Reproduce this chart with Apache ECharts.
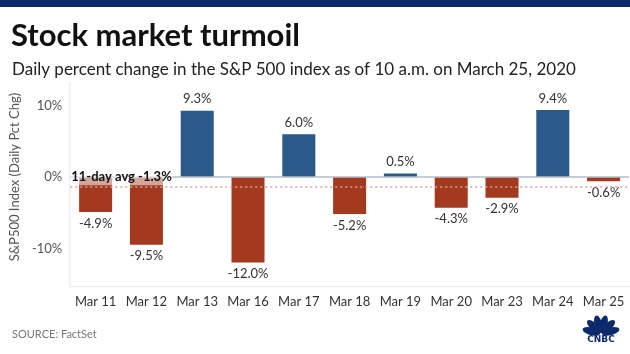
<!DOCTYPE html>
<html>
<head>
<meta charset="utf-8">
<script src="https://cdn.jsdelivr.net/npm/echarts@6/dist/echarts.min.js"></script>
<style>
  html, body { margin: 0; padding: 0; background: #fff; }
  #chart { width: 630px; height: 354px; }
</style>
</head>
<body>
<div id="chart"></div>
<script>
// daily % change, S&P 500
var days = ['Mar 11', 'Mar 12', 'Mar 13', 'Mar 16', 'Mar 17', 'Mar 18', 'Mar 19', 'Mar 20', 'Mar 23', 'Mar 24', 'Mar 25'];
var pctChange = [-4.9, -9.5, 9.3, -12.0, 6.0, -5.2, 0.5, -4.3, -2.9, 9.4, -0.6];
var avgChange = -1.3;
var yTicks = [-10, 0, 10];

var chart = echarts.init(document.getElementById('chart'));
var font = 'Lato, "Open Sans", sans-serif';

// peacock feathers for the logo
var feathers = [];
var angles = [-75, -45, -15, 15, 45, 75];
for (var i = 0; i < angles.length; i++) {
  feathers.push({
    type: 'ellipse',
    shape: { cx: 0, cy: -10, rx: 3.8, ry: 9 },
    rotation: -angles[i] * Math.PI / 180,
    style: { fill: '#0c2a6b' }
  });
}

var option = {
  animation: false,
  textStyle: { fontFamily: font },
  title: [
    { text: 'Stock market turmoil', left: 6, top: 15,
      textStyle: { fontSize: 31, fontWeight: 'bold', color: '#111', fontFamily: font } },
    { text: 'Daily percent change in the S&P 500 index as of 10 a.m. on March 25, 2020', left: 7, top: 56,
      textStyle: { fontSize: 17, fontWeight: 'normal', color: '#222', fontFamily: font } },
    { text: 'SOURCE: FactSet', left: 7, top: 324,
      textStyle: { fontSize: 11, fontWeight: 'normal', color: '#777', fontFamily: font } }
  ],
  graphic: [
    { type: 'rect', left: 0, top: 0, shape: { width: 630, height: 7 }, style: { fill: '#0c2a6b' } },
    { type: 'rect', left: 69, top: 82, shape: { width: 1.5, height: 205 }, style: { fill: '#eceff2' } },
    { type: 'rect', left: 69, top: 286, shape: { width: 561, height: 1.5 }, style: { fill: '#eceff2' } },
    { type: 'group', x: 601, y: 334, children: feathers },
    { type: 'text', x: 601, y: 335, style: { text: 'CNBC', fill: '#0c2a6b', font: 'bold 9px "DejaVu Sans"', textAlign: 'center' } }
  ],
  grid: { left: 70, right: 1, top: 70, bottom: 70 },
  xAxis: {
    type: 'category',
    data: days,
    axisLine: { show: false },
    axisTick: { show: false },
    axisLabel: { color: '#333', fontSize: 13, margin: 11, interval: 0, fontFamily: font }
  },
  yAxis: {
    type: 'value',
    name: 'S&P500 Index (Daily Pct Chg)',
    nameLocation: 'middle',
    nameGap: 48,
    nameTextStyle: { color: '#555', fontSize: 13, fontFamily: font },
    min: -15,
    max: 15,
    interval: 5,
    axisLine: { show: false },
    axisTick: { show: false },
    splitLine: { show: false },
    axisLabel: {
      color: '#555', fontSize: 13, margin: 8,
      formatter: function (v) { return yTicks.indexOf(v) >= 0 ? v + '%' : ''; }
    }
  },
  series: [
    {
      type: 'bar',
      data: pctChange.map(function (v) {
        return {
          value: v,
          itemStyle: { color: v >= 0 ? '#2b5a8a' : '#a33a1f' },
          label: { position: v >= 0 ? 'top' : 'bottom' }
        };
      }),
      barWidth: '65%',
      label: {
        show: true,
        color: '#333',
        fontSize: 13,
        distance: 5,
        formatter: function (p) { return p.value.toFixed(1) + '%'; }
      },
      markLine: {
        silent: true,
        symbol: 'none',
        data: [
          { yAxis: 0, lineStyle: { color: '#b4bcc6', type: 'solid', width: 1.5 }, label: { show: false } },
          {
            yAxis: avgChange,
            lineStyle: { color: '#d6a39a', type: [2, 3], width: 1.5 },
            label: {
              show: true,
              position: 'insideStartTop',
              distance: [0, 1],
              formatter: '11-day avg ' + avgChange.toFixed(1) + '%',
              color: '#111',
              fontWeight: 'bold',
              fontSize: 13,
              backgroundColor: 'rgba(255,255,255,0.55)',
              padding: [1, 1, 2, 1]
            }
          }
        ]
      }
    }
  ]
};
chart.setOption(option);
</script>
</body>
</html>
